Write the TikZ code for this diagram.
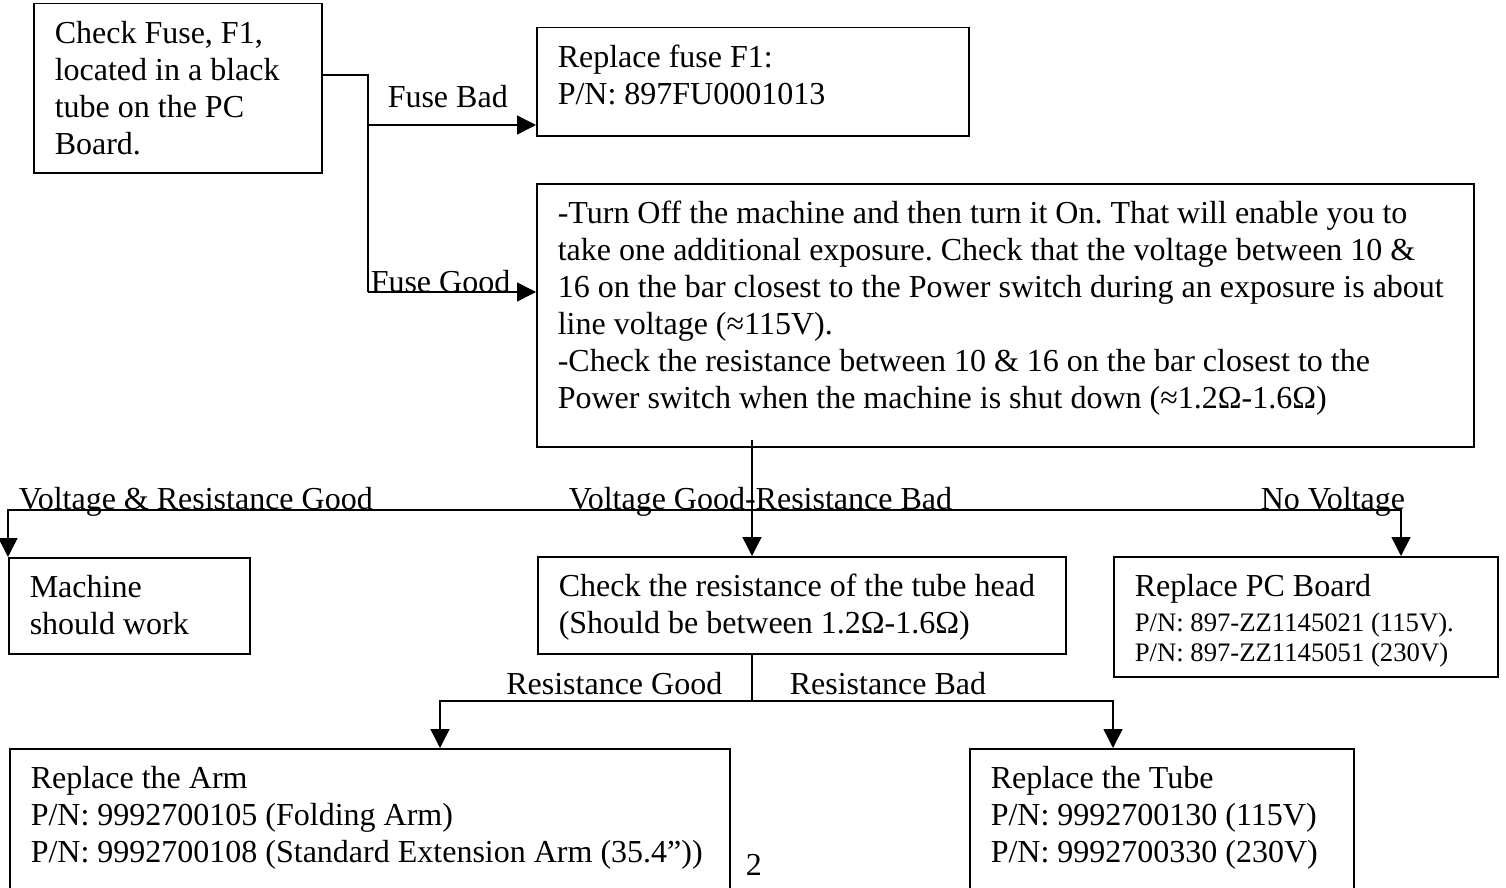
\documentclass[tikz,border=0pt]{standalone}
\usepackage{fontspec}
\setmainfont{Liberation Serif}
\usetikzlibrary{arrows.meta, calc}
\tikzset{
    x=1pt, y=-1pt, % one unit is one pixel, y runs downwards
    every node/.style={font=\fontsize{32}{37}\selectfont}, % text size of the whole chart
    block/.style={draw, anchor=north west, align=left, inner xsep=21pt, inner ysep=14pt, text height=26pt,
        execute at begin node={\spaceskip=0pt\xspaceskip=0pt\frenchspacing}}, % boxes, text starts at the top
    flow/.style={-{Triangle[length=19pt, width=19pt]}}, % filled arrow heads
    tag/.style={anchor=base west, inner sep=0pt}, % branch labels
    }

\begin{document}
\begin{tikzpicture}[line width=1.5pt]
\useasboundingbox (0,0) rectangle (1506,888);

\node[block, text width=246pt, text depth=115pt] (1) at (33,3) {Check Fuse, F1,\\located in a black\\tube on the PC\\Board.};
\node[block, text width=390pt, text depth=54pt] (2) at (536,27) {Replace fuse F1:\\P/N: 897FU0001013};
\node[block, text width=895pt, text depth=209pt] (3) at (536,183) {-Turn Off the machine and then turn it On. That will enable you to\\take one additional exposure. Check that the voltage between 10 \&\\\mbox{16 on the bar closest to the Power switch during an exposure is about}\\line voltage (≈115V).\\-Check the resistance between 10 \& 16 on the bar closest to the\\Power switch when the machine is shut down (≈1.2Ω-1.6Ω)};
\node[block, text width=199pt, text depth=42pt] (4) at (8,557) {Machine\\should work};
\node[block, text width=486pt, text depth=43pt] (5) at (537,556) {Check the resistance of the tube head\\(Should be between 1.2Ω-1.6Ω)};
\node[block, text width=342pt, text depth=66pt] (6) at (1113,556) {Replace PC Board\\[7pt]\fontsize{26.7}{28}\selectfont P/N: 897-ZZ1145021 (115V).\\[-7pt]P/N: 897-ZZ1145051 (230V)};
\node[block, text width=678pt, text depth=116pt] (7) at (9,748) {Replace the Arm\\P/N: 9992700105 (Folding Arm)\\\mbox{P/N: 9992700108 (Standard Extension Arm (35.4”))}};
\node[block, text width=342pt, text depth=116pt] (8) at (969,748) {Replace the Tube\\P/N: 9992700130 (115V)\\P/N: 9992700330 (230V)};

% fuse branches
\coordinate (s) at (368,75);
\coordinate (s1) at (368,125);
\coordinate (s2) at (368,292);
\draw (1.east |- s) -- (s) -- (s2);
\draw[flow] (s1) -- (2.west |- s1);
\draw[flow] (s2) -- (3.west |- s2);

% measurement branches
\coordinate (t) at (752,510);
\coordinate (t3) at (1401,510);
\draw ($(3.south -| t)+(0,-8)$) -- (t);
\draw[flow] (t) -- (5.north -| t);
\draw[flow] (t) -| (4.north west);
\draw[flow] (t) -- (t3) -- (6.north -| t3);

% tube head branches
\coordinate (u) at (752,701);
\coordinate (u1) at (440,701);
\coordinate (u2) at (1113,701);
\draw (5.south -| u) -- (u);
\draw[flow] (u) -- (u1) -- (7.north -| u1);
\draw[flow] (u) -- (u2) -- (8.north -| u2);

\node[tag] (fb) at (387,107) {Fuse Bad};
\node[tag] (fg) at (370,292) {Fuse Good};
\node[tag] (vr) at (18,509) {Voltage \& Resistance Good};
\node[tag] (vg) at (568,509) {Voltage Good-Resistance Bad};
\node[tag] (nv) at (1260,509) {No Voltage};
\node[tag, anchor=base east] (rg) at (723,694) {Resistance Good};
\node[tag] (rb) at (789,694) {Resistance Bad};
\node[tag] (pg) at (745,875) {2};

\end{tikzpicture}
\end{document}
